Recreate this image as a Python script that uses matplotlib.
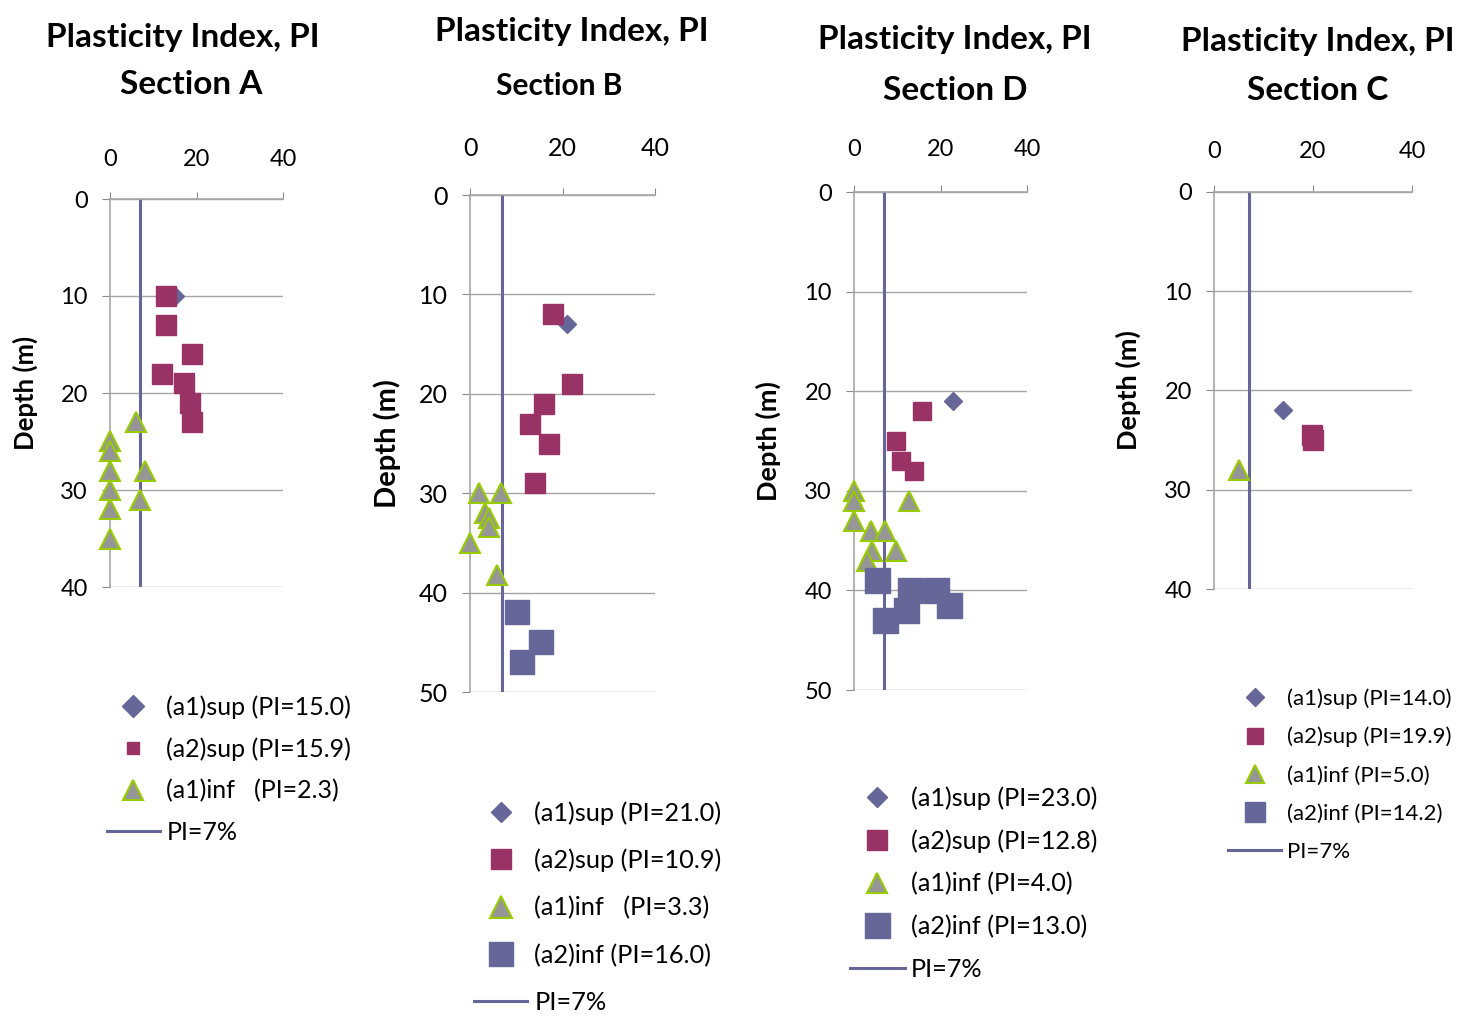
import matplotlib
matplotlib.use('Agg')
import matplotlib.pyplot as plt
from matplotlib.lines import Line2D

plt.rcParams['font.family'] = ['Lato', 'DejaVu Sans']

# Section A
A_a1sup_pi = [15]
A_a1sup_depth = [10]
A_a2sup_pi = [13, 13, 19, 12, 17, 18.5, 19]
A_a2sup_depth = [10, 13, 16, 18, 19, 21, 23]
A_a1inf_pi = [6, 0, 0, 0, 8, 0, 7, 0, 0]
A_a1inf_depth = [23, 25, 26, 28, 28, 30, 31, 32, 35]

# Section B
B_a1sup_pi = [21]
B_a1sup_depth = [13]
B_a2sup_pi = [18, 22, 16, 13, 17, 14]
B_a2sup_depth = [12, 19, 21, 23, 25, 29]
B_a1inf_pi = [2, 6.8, 3.3, 4.2, 4.2, 0, 5.9]
B_a1inf_depth = [30, 30, 32, 32.5, 33.4, 35, 38.2]
B_a2inf_pi = [10.2, 15.4, 11.3]
B_a2inf_depth = [42, 45, 47]

# Section D
D_a1sup_pi = [23]
D_a1sup_depth = [21]
D_a2sup_pi = [15.7, 9.7, 10.9, 13.8]
D_a2sup_depth = [22, 25, 27, 28]
D_a1inf_pi = [0, 0, 0, 3.9, 7.1, 12.8, 4.1, 9.8, 2.9]
D_a1inf_depth = [30, 31, 33, 34, 34, 31, 36, 36, 37]
D_a2inf_pi = [5.3, 13, 19, 22, 12.1, 7.2]
D_a2inf_depth = [39, 40, 40, 41.5, 42, 43]

# Section C
C_a1sup_pi = [14]
C_a1sup_depth = [22]
C_a2sup_pi = [19.7, 20]
C_a2sup_depth = [24.5, 25]
C_a1inf_pi = [5]
C_a1inf_depth = [28]
C_a2inf_pi = []
C_a2inf_depth = []

PI_LIMIT = 7

BLUE = '#666699'
MAROON = '#993366'
GRAY = '#969696'
GREEN = '#99CC00'

W, H = 1460, 1021
fig = plt.figure(figsize=(W / 100, H / 100), dpi=100)


def styles(kind, ms):
    if kind == 'a1sup':
        return dict(marker='D', color=BLUE, mec=BLUE, ms=ms)
    if kind == 'a2sup':
        return dict(marker='s', color=MAROON, mec=MAROON, ms=ms)
    if kind == 'a1inf':
        return dict(marker='^', color=GRAY, mec=GREEN, mew=1.5, ms=ms)
    return dict(marker='s', color=BLUE, mec=BLUE, ms=ms)


def panel(box, ymax, series, labels, title, t1, t2, ylab_x, ylab_fs,
          plot_ms, tick_fs, xpad, leg, leg_ms, t2_fs=24):
    x0, y0, x1, y1 = box
    ax = fig.add_axes([x0 / W, 1 - y1 / H, (x1 - x0) / W, (y1 - y0) / H])
    ax.plot([PI_LIMIT, PI_LIMIT], [0, ymax], color=BLUE, lw=2.2, zorder=2)
    z = 3
    for pi, depth, kind in series:
        ax.plot(pi, depth, ls='none', zorder=z, clip_on=False,
                **styles(kind, plot_ms[kind]))
        z += 1

    ax.set_xlim(0, 40)
    ax.set_ylim(ymax, 0)
    ax.xaxis.tick_top()
    ax.set_xticks([0, 20, 40])
    ax.set_yticks(range(0, ymax + 1, 10))
    ax.tick_params(axis='x', length=5, color='#888888', labelsize=tick_fs,
                   pad=xpad)
    ax.tick_params(axis='y', length=6, color='#888888', labelsize=tick_fs,
                   pad=10)
    ax.grid(axis='y', color='#A6A6A6', lw=1)
    ax.set_axisbelow(True)
    for s in ['right', 'bottom']:
        ax.spines[s].set_visible(False)
    for s in ['left', 'top']:
        ax.spines[s].set_color('#A6A6A6')
        ax.spines[s].set_linewidth(1.2)

    fig.text(ylab_x / W, 1 - (y0 + y1) / 2 / H, 'Depth (m)', rotation=90,
             ha='center', va='center', fontsize=ylab_fs, fontweight='bold')
    fig.text(t1[0] / W, 1 - t1[1] / H, 'Plasticity Index, PI', ha='center',
             va='center', fontsize=24, fontweight='bold')
    fig.text(t2[0] / W, 1 - t2[1] / H, title, ha='center', va='center',
             fontsize=t2_fs, fontweight='bold')

    handles = [Line2D([], [], ls='none', **styles(kind, m))
               for (_, _, kind), m in zip(series, leg_ms)]
    handles.append(Line2D([], [], color=BLUE, lw=2.2))
    lx, ly, fs, spacing, hlen, hpad = leg
    ax.legend(handles, labels + ['PI=7%'], loc='upper left',
              bbox_to_anchor=(lx / W, 1 - ly / H),
              bbox_transform=fig.transFigure, frameon=False, fontsize=fs,
              labelspacing=spacing, handlelength=hlen, handletextpad=hpad,
              borderpad=0, borderaxespad=0)
    return ax


panel((110, 199, 283, 587), 40,
      [(A_a1sup_pi, A_a1sup_depth, 'a1sup'),
       (A_a2sup_pi, A_a2sup_depth, 'a2sup'),
       (A_a1inf_pi, A_a1inf_depth, 'a1inf')],
      ['(a1)sup (PI=15.0)', '(a2)sup (PI=15.9)', '(a1)inf   (PI=2.3)'],
      'Section A', (183, 37), (191, 85), 25, 18.5,
      {'a1sup': 9.5, 'a2sup': 13.7, 'a1inf': 14}, 17, 16,
      (107, 695, 18, 0.74, 2.1, 0.28), [10.7, 8.2, 14])

panel((470, 195, 655, 692), 50,
      [(B_a1sup_pi, B_a1sup_depth, 'a1sup'),
       (B_a2sup_pi, B_a2sup_depth, 'a2sup'),
       (B_a1inf_pi, B_a1inf_depth, 'a1inf'),
       (B_a2inf_pi, B_a2inf_depth, 'a2inf')],
      ['(a1)sup (PI=21.0)', '(a2)sup (PI=10.9)', '(a1)inf   (PI=3.3)',
       '(a2)inf (PI=16.0)'],
      'Section B', (572, 31), (559, 86), 387, 21,
      {'a1sup': 9.5, 'a2sup': 13.7, 'a1inf': 14, 'a2inf': 17.5}, 18, 20.3,
      (474, 801, 18.3, 0.95, 2.1, 0.28), [10.5, 14.9, 16.5, 17], t2_fs=21.5)

panel((854, 192, 1027, 690), 50,
      [(D_a1sup_pi, D_a1sup_depth, 'a1sup'),
       (D_a2sup_pi, D_a2sup_depth, 'a2sup'),
       (D_a1inf_pi, D_a1inf_depth, 'a1inf'),
       (D_a2inf_pi, D_a2inf_depth, 'a2inf')],
      ['(a1)sup (PI=23.0)', '(a2)sup (PI=12.8)', '(a1)inf (PI=4.0)',
       '(a2)inf (PI=13.0)'],
      'Section D', (955, 40), (955, 90), 768, 19.5,
      {'a1sup': 9.5, 'a2sup': 13, 'a1inf': 14, 'a2inf': 18}, 17, 18.2,
      (850, 786, 18.2, 0.77, 2.17, 0.24), [10.5, 13.9, 14.9, 18])

panel((1214, 192, 1412, 589), 40,
      [(C_a1sup_pi, C_a1sup_depth, 'a1sup'),
       (C_a2sup_pi, C_a2sup_depth, 'a2sup'),
       (C_a1inf_pi, C_a1inf_depth, 'a1inf'),
       (C_a2inf_pi, C_a2inf_depth, 'a2inf')],
      ['(a1)sup (PI=14.0)', '(a2)sup (PI=19.9)', '(a1)inf (PI=5.0)',
       '(a2)inf (PI=14.2)'],
      'Section C', (1318, 41), (1318, 91), 1128, 19.5,
      {'a1sup': 9.5, 'a2sup': 13.7, 'a1inf': 14, 'a2inf': 17}, 17, 16.7,
      (1228, 688, 16, 0.82, 2.4, 0.27), [8.8, 11.5, 12.5, 15])

fig.savefig('out.png', dpi=100)
